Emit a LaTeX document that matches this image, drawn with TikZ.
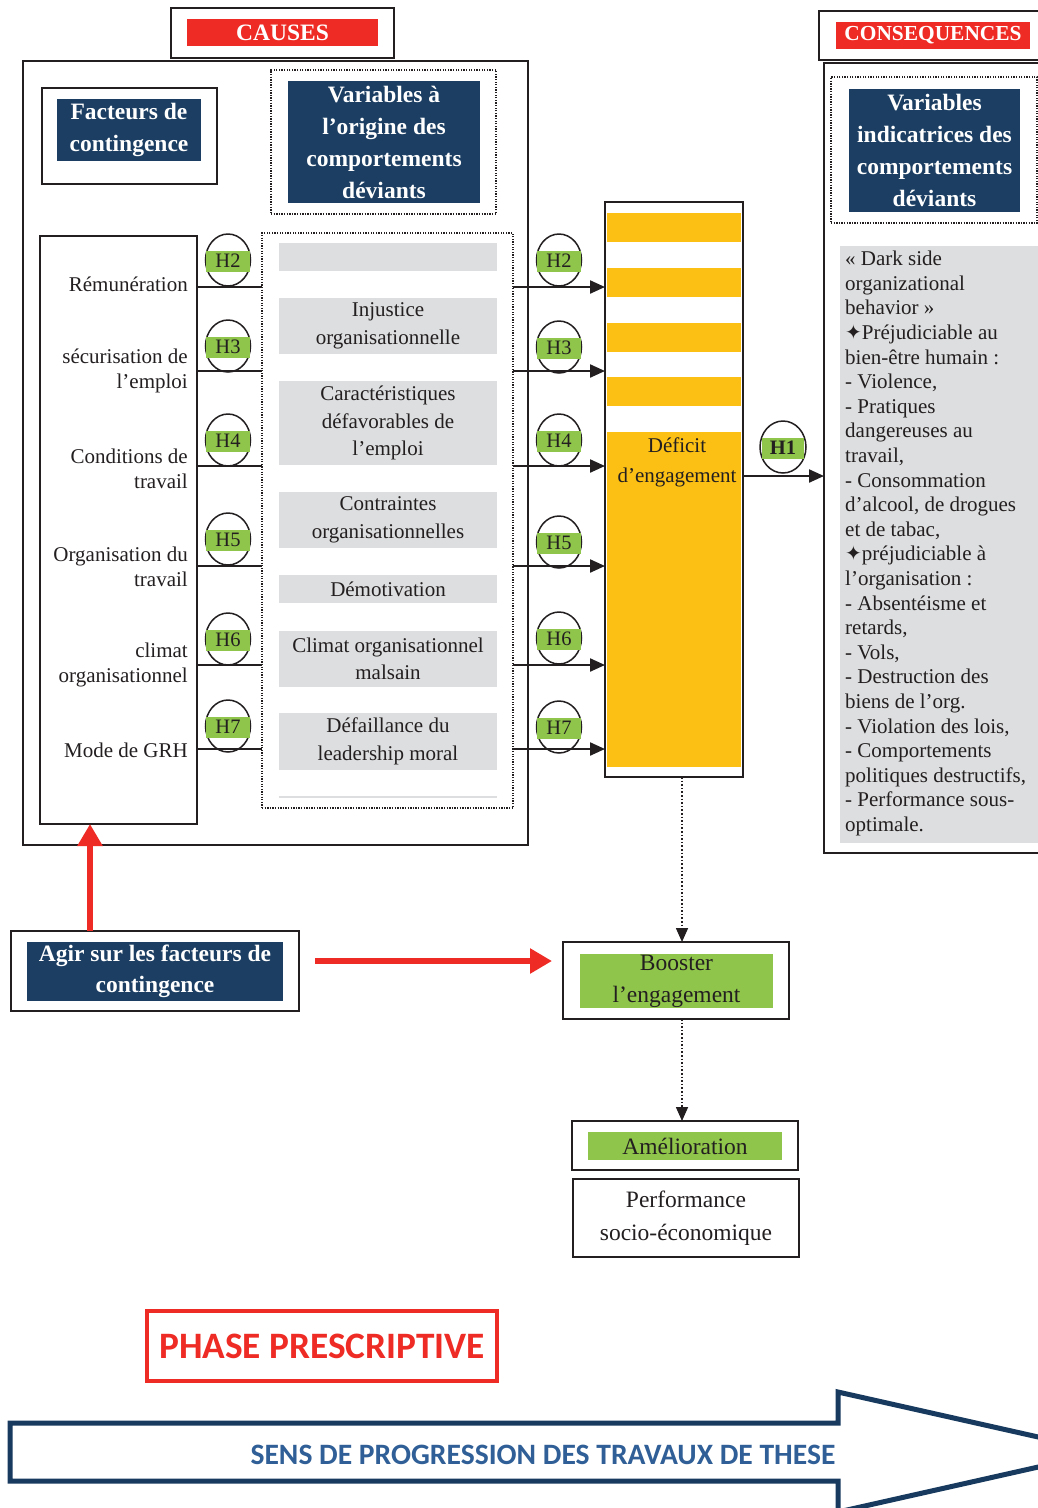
\documentclass[tikz,border=0pt]{standalone}
\usepackage{fontspec}
\setmainfont{Liberation Serif}
\newfontfamily\calib{Carlito}
\newfontfamily\djv{DejaVu Sans}
\usetikzlibrary{shapes.geometric,arrows.meta}
\definecolor{cred}{HTML}{EE2B24}
\definecolor{cblue}{HTML}{1B3E62}
\definecolor{cyel}{HTML}{FCBF14}
\definecolor{cgreen}{HTML}{8FC54A}
\definecolor{cgray}{HTML}{DDDEDF}
\definecolor{ctxt}{HTML}{231F20}
\definecolor{cabl}{HTML}{173A5E}
\definecolor{ctbl}{HTML}{2F5F96}
\newcommand\bx[6]{\node[#6, inner sep=0pt, outer sep=0pt, minimum width={#4-#2}, minimum height={#5-#3}] (#1) at ({(#2+#4)/2},{(#3+#5)/2})}
\begin{document}
\begin{tikzpicture}[x=1pt,y=-1pt,
  frame/.style={draw=ctxt, line width=1.8pt, fill=white},
  dotbox/.style={draw=ctxt, line width=1.3pt, dash pattern=on 1.3pt off 1.3pt},
  hdr/.style={text=white, font=\bfseries\fontsize{23.5}{32}\selectfont, align=center},
  gbox/.style={fill=cgray, text=ctxt, font=\fontsize{21}{27.5}\selectfont, align=center},
  lab/.style={text=ctxt, font=\fontsize{21}{24.5}\selectfont, align=right, anchor=east, inner sep=0pt},
  hypc/.style={draw=ctxt, line width=1.5pt, ellipse, minimum width=45pt, minimum height=52pt, inner sep=0pt},
  hypl/.style={fill=cgreen, minimum width=44pt, minimum height=21pt, inner sep=0pt, text=ctxt, font=\fontsize{20.5}{20.5}\selectfont},
  conn/.style={draw=ctxt, line width=2.2pt},
  arr/.style={conn, -{Triangle[length=15pt,width=13pt]}},
  darr/.style={draw=ctxt, line width=1.6pt, dash pattern=on 1.6pt off 2pt, -{Triangle[length=14pt,width=12pt]}},
  redarr/.style={draw=cred, line width=6pt, -{Triangle[length=22pt,width=24pt]}},
  btxt/.style={text=ctxt, font=\fontsize{23.5}{32}\selectfont, align=center}
]
\clip (0,0) rectangle (1038,1508);
\fill[white] (0,0) rectangle (1038,1508);

% ---------- CAUSES ----------
\bx{causesF}{171}{8}{394}{58}{frame}{};
\bx{causes}{187}{19}{378}{46}{fill=cred,hdr}{CAUSES};
\bx{causesBox}{23}{61}{528}{845}{frame}{};
\bx{facF}{42}{88}{217}{184}{frame}{};
\bx{facH}{57}{99}{201}{161}{fill=cblue,hdr}{Facteurs de\\contingence};
\bx{varF}{271}{70}{496}{214}{dotbox}{};
\bx{varH}{288}{81}{480}{203}{fill=cblue,hdr}{Variables à\\l’origine des\\comportements\\déviants};

% left column
\bx{fac}{40}{236}{197}{824}{frame}{};
\node[lab] (l1) at (188,284) {Rémunération};
\node[lab] (l2) at (188,371) {sécurisation de\\l’emploi};
\node[lab] (l3) at (188,469) {Conditions de\\travail};
\node[lab] (l4) at (188,567) {Organisation du\\travail};
\node[lab] (l5) at (188,665) {climat\\organisationnel};
\node[lab] (l6) at (188,750) {Mode de GRH};

% middle column
\bx{var}{262}{233}{513}{808}{dotbox}{};
\bx{g0}{279}{243}{497}{271}{gbox}{};
\bx{g1}{279}{298}{497}{354}{gbox}{Injustice\\organisationnelle};
\bx{g2}{279}{381}{497}{465}{gbox}{Caractéristiques\\défavorables de\\l’emploi};
\bx{g3}{279}{492}{497}{548}{gbox}{Contraintes\\organisationnelles};
\bx{g4}{279}{575}{497}{603}{gbox}{Démotivation};
\bx{g5}{279}{631}{497}{687}{gbox}{Climat organisationnel\\malsain};
\bx{g6}{279}{713}{497}{770}{gbox}{Défaillance du\\leadership moral};
\bx{g7}{279}{796}{497}{798}{fill=cgray}{};

% row coordinates
\coordinate (r2) at (0,287);
\coordinate (r3) at (0,371);
\coordinate (r4) at (0,466);
\coordinate (r5) at (0,566);
\coordinate (r6) at (0,665);
\coordinate (r7) at (0,749);
\coordinate (r1) at (0,476);

% Deficit bar
\bx{def}{605}{202}{743}{777}{frame}{};
\fill[cyel] (607,213) rectangle (741,242);
\fill[cyel] (607,268) rectangle (741,297);
\fill[cyel] (607,323) rectangle (741,352);
\fill[cyel] (607,377) rectangle (741,406);
\fill[cyel] (607,432) rectangle (741,767);
\node[text=ctxt, font=\fontsize{21}{30}\selectfont, align=center] (deft) at (677,462) {Déficit\\d’engagement};

% connectors left and right
\foreach \r in {r2,r3,r4,r5,r6,r7}{
  \draw[conn] (fac.east |- \r) -- (var.west |- \r);
  \draw[arr] (var.east |- \r) -- (def.west |- \r);
}

% hypothesis circles left
\foreach \n/\y in {2/260,3/346,4/440,5/539,6/639,7/726}{
  \node[hypc] (hl\n) at (228,\y) {};
  \node[hypl] (hlt\n) at (228,\y+1) {H\n};
}
% hypothesis circles right
\foreach \n/\y in {2/260,3/347,4/440,5/542,6/638,7/727}{
  \node[hypc] (hr\n) at (559,\y) {};
  \node[hypl] (hrt\n) at (559,\y+1) {H\n};
}

% ---------- CONSEQUENCES ----------
\bx{consF}{819}{11}{1050}{60}{frame}{};
\bx{consH}{836}{22}{1030}{49}{fill=cred,hdr,font=\bfseries\fontsize{21.4}{32}\selectfont}{CONSEQUENCES};
\bx{cons}{824}{63}{1050}{853}{frame}{};
\bx{indF}{831}{77}{1037}{223}{dotbox}{};
\bx{indH}{849}{89}{1020}{212}{fill=cblue,hdr}{Variables\\indicatrices des\\comportements\\déviants};
\bx{list}{840}{246}{1050}{843}{fill=cgray}{};
\node[anchor=north west, inner sep=0pt, text=ctxt, align=left, font=\fontsize{21}{24.6}\selectfont] (listt) at (845,251) {%
« Dark side\\
organizational\\
behavior »\\
{\djv\fontsize{20}{20}\selectfont ✦}Préjudiciable au\\
bien-être humain :\\
- Violence,\\
- Pratiques\\
dangereuses au\\
travail,\\
- Consommation\\
d’alcool, de drogues\\
et de tabac,\\
{\djv\fontsize{20}{20}\selectfont ✦}préjudiciable à\\
l’organisation :\\
- Absentéisme et\\
retards,\\
- Vols,\\
- Destruction des\\
biens de l’org.\\
- Violation des lois,\\
- Comportements\\
politiques destructifs,\\
- Performance sous-\\
optimale.};

% H1
\draw[arr] (def.east |- r1) -- (cons.west |- r1);
\node[hypc, minimum width=46pt] (h1) at (783,447) {};
\node[hypl, minimum width=42pt, font=\bfseries\fontsize{20.5}{20.5}\selectfont] (h1t) at (783,448) {H1};

% ---------- bottom ----------
\bx{agirF}{11}{931}{299}{1011}{frame}{};
\bx{agir}{27}{942}{283}{1001}{fill=cblue,hdr,font=\bfseries\fontsize{23.5}{31}\selectfont}{Agir sur les facteurs de\\contingence};
\bx{boostF}{563}{942}{789}{1019}{frame}{};
\bx{boost}{580}{954}{773}{1008}{fill=cgreen,btxt}{\rule{0pt}{6pt}Booster\\l’engagement};
\bx{amelF}{572}{1121}{798}{1170}{frame}{};
\bx{amel}{588}{1132}{782}{1160}{fill=cgreen,btxt}{Amélioration};
\bx{perf}{573}{1179}{799}{1257}{frame,btxt,font=\fontsize{23.5}{33}\selectfont}{Performance\\socio-économique};

\coordinate (dx) at (682,0);
\draw[darr] (def.south -| dx) -- (boostF.north -| dx);
\draw[darr] (boostF.south -| dx) -- (amelF.north -| dx);

\coordinate (ra) at (90,0);
\draw[redarr] (agirF.north -| ra) -- (fac.south -| ra);
\coordinate (rr) at (0,961);
\draw[redarr] ([xshift=16pt]agirF.east |- rr) -- ([xshift=-11pt]boostF.west |- rr);

\bx{phase}{147}{1311}{497}{1381}{draw=cred, line width=4pt, text=cred, font=\calib\bfseries\fontsize{37.3}{37}\selectfont}{PHASE PRESCRIPTIVE};

\draw[cabl, line width=5pt, line join=miter, fill=white] (10,1423) -- (838,1423) -- (838,1392) -- (1105,1452) -- (838,1512) -- (838,1481) -- (10,1481) -- cycle;
\node[text=ctbl, font=\calib\bfseries\fontsize{29.6}{30}\selectfont] (sens) at (543,1455) {SENS DE PROGRESSION DES TRAVAUX DE THESE};
\end{tikzpicture}
\end{document}
